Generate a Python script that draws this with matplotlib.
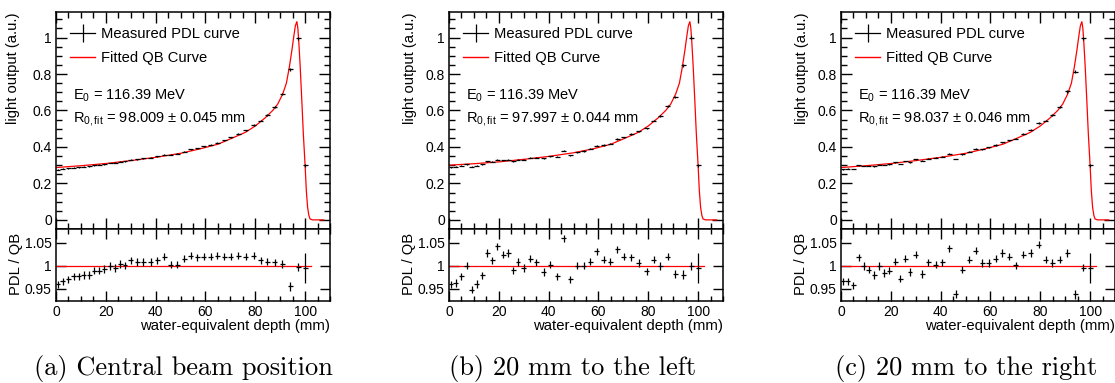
import numpy as np
import matplotlib.pyplot as plt
from matplotlib.ticker import MultipleLocator, FuncFormatter
from matplotlib.lines import Line2D

plt.rcParams.update({
    "font.family": ["Liberation Sans", "DejaVu Sans"],
    "font.size": 10,
    "mathtext.fontset": "custom",
    "mathtext.rm": "Liberation Sans",
    "mathtext.it": "Liberation Sans:italic",
    "axes.linewidth": 1.1,
})

# measured depth positions (mm), shared by the three runs
DEPTH = [0.8, 2.8, 5.0, 7.2, 9.2, 11.2, 13.3, 15.3, 17.3, 19.3,
         21.7, 23.7, 25.7, 27.7, 30.0, 32.7, 35.1, 38.0, 40.7, 43.4,
         46.1, 48.7, 51.4, 54.1, 56.8, 59.4, 62.1, 64.8, 67.5, 70.1,
         73.2, 76.2, 79.3, 82.2, 84.9, 87.8, 90.9, 94.0, 97.2, 100.0]

# PDL / QB ratio
RATIO_A = [0.959, 0.966, 0.970, 0.977, 0.977, 0.980, 0.980, 0.989, 0.989, 0.993,
           0.999, 0.995, 1.004, 1.001, 1.012, 1.008, 1.008, 1.008, 1.012, 1.020,
           1.002, 1.002, 1.015, 1.022, 1.018, 1.020, 1.020, 1.022, 1.020, 1.020,
           1.022, 1.020, 1.022, 1.012, 1.009, 1.007, 1.004, 0.955, 0.997, 0.995]
RATIO_B = [0.959, 0.962, 0.977, 1.000, 0.948, 0.960, 0.979, 1.028, 1.012, 1.042,
           1.024, 1.028, 0.990, 1.008, 0.995, 1.015, 1.007, 0.986, 1.002, 0.977,
           1.060, 0.970, 1.000, 1.000, 1.009, 1.031, 1.013, 1.009, 1.036, 1.020,
           1.018, 1.006, 0.988, 1.013, 0.999, 1.020, 0.982, 0.980, 0.999, 0.995]
RATIO_C = [0.966, 0.966, 0.957, 1.018, 0.999, 0.991, 0.980, 0.999, 0.984, 0.989,
           1.009, 0.972, 1.015, 0.986, 1.024, 0.982, 1.007, 1.002, 1.007, 1.038,
           0.938, 0.991, 1.013, 1.033, 1.006, 1.006, 1.015, 1.028, 1.020, 1.001,
           1.024, 1.028, 1.046, 1.013, 1.006, 1.013, 1.028, 0.938, 0.996, 0.995]
RATIO_ERR = [0.008, 0.008, 0.008, 0.008, 0.008, 0.008, 0.008, 0.008, 0.008, 0.008,
             0.008, 0.008, 0.008, 0.008, 0.008, 0.008, 0.008, 0.008, 0.008, 0.008,
             0.008, 0.008, 0.008, 0.008, 0.008, 0.008, 0.008, 0.008, 0.008, 0.008,
             0.008, 0.008, 0.008, 0.008, 0.008, 0.008, 0.008, 0.010, 0.008, 0.033]

# fitted QB curve read at the measured depths
QB_AT_DEPTH_A = [0.288, 0.290, 0.292, 0.294, 0.296, 0.298, 0.301, 0.303, 0.306, 0.308,
                 0.312, 0.315, 0.318, 0.321, 0.325, 0.330, 0.334, 0.339, 0.344, 0.350,
                 0.356, 0.362, 0.369, 0.378, 0.386, 0.395, 0.405, 0.414, 0.428, 0.444,
                 0.462, 0.482, 0.508, 0.538, 0.570, 0.613, 0.685, 0.865, 1.000, 0.300]
QB_AT_DEPTH_B = [0.301, 0.302, 0.304, 0.306, 0.307, 0.309, 0.311, 0.313, 0.315, 0.317,
                 0.320, 0.322, 0.325, 0.328, 0.331, 0.335, 0.339, 0.343, 0.348, 0.353,
                 0.358, 0.364, 0.371, 0.378, 0.386, 0.395, 0.405, 0.414, 0.428, 0.444,
                 0.462, 0.482, 0.508, 0.538, 0.570, 0.613, 0.685, 0.865, 1.000, 0.300]
QB_AT_DEPTH_C = QB_AT_DEPTH_A

# fitted QB curve, dense reading
FIT_X = [0, 10, 20, 30, 40, 50, 58, 65, 71, 76, 80, 84, 87, 89, 91, 92.5, 93.7,
         94.7, 95.5, 96.1, 96.7, 97.1, 97.5, 98.0, 98.7, 99.3, 100.0, 100.5, 101.0,
         101.5, 102.0, 103.0, 107.5]
FIT_A = [0.287, 0.297, 0.309, 0.325, 0.343, 0.365, 0.390, 0.415, 0.450, 0.480, 0.515,
         0.560, 0.600, 0.635, 0.690, 0.750, 0.840, 0.930, 1.010, 1.065, 1.087, 1.050,
         0.970, 0.850, 0.650, 0.470, 0.300, 0.160, 0.070, 0.025, 0.005, 0.0, 0.0]
FIT_B = [0.300, 0.308, 0.318, 0.332, 0.348, 0.368, 0.390, 0.415, 0.450, 0.480, 0.515,
         0.560, 0.600, 0.635, 0.690, 0.750, 0.840, 0.930, 1.010, 1.065, 1.087, 1.050,
         0.970, 0.850, 0.650, 0.470, 0.300, 0.160, 0.070, 0.025, 0.005, 0.0, 0.0]
FIT_C = FIT_A

RATIO_LINE_X = [0, 102.3]
E0_TEXT = "E$_{0}$ = 116.39 MeV"
R0_TEXTS = ["98.009 \u00b1 0.045 mm", "97.997 \u00b1 0.044 mm", "98.037 \u00b1 0.046 mm"]
CAPTIONS = ["(a) Central beam position", "(b) 20 mm to the left", "(c) 20 mm to the right"]

# layout in pixels of the 1115x383 canvas
W, H = 1115, 383
PANEL_LEFT = [56, 449, 841]
PANEL_W = 274
CAPTION_X = [183, 573, 966]
YLAB_TOP = [-0.130, -0.115, -0.115]
YLAB_RATIO = [-0.119, -0.119, -0.119]

fmt = FuncFormatter(lambda v, p: f"{v:g}")


def style(ax, xmaj, xmin, ymaj, ymin, long=7.5, short=4):
    ax.xaxis.set_major_locator(MultipleLocator(xmaj))
    ax.xaxis.set_minor_locator(MultipleLocator(xmin))
    ax.yaxis.set_major_locator(MultipleLocator(ymaj))
    if ymin:
        ax.yaxis.set_minor_locator(MultipleLocator(ymin))
    else:
        ax.yaxis.set_minor_locator(plt.NullLocator())
    ax.tick_params(which="both", direction="in", top=True, right=True,
                   width=1.0, labelsize=10, pad=3)
    ax.tick_params(which="major", length=long)
    ax.tick_params(which="minor", length=short)
    ax.yaxis.set_major_formatter(fmt)
    ax.xaxis.set_major_formatter(fmt)


fig = plt.figure(figsize=(W / 100, H / 100), dpi=100)

panels = [(RATIO_A, QB_AT_DEPTH_A, FIT_A), (RATIO_B, QB_AT_DEPTH_B, FIT_B),
          (RATIO_C, QB_AT_DEPTH_C, FIT_C)]

for i, (ratio, qb, fit) in enumerate(panels):
    left = PANEL_LEFT[i] / W
    width = PANEL_W / W
    ax = fig.add_axes([left, 1 - 229 / H, width, 217 / H])
    rx = fig.add_axes([left, 1 - 301 / H, width, 72 / H], sharex=ax)

    ratio = np.array(ratio)
    qb = np.array(qb)
    rerr = np.array(RATIO_ERR)
    pdl = qb * ratio

    # top: measured PDL + fitted QB curve
    ax.plot(FIT_X, fit, color="red", lw=0.9, zorder=2)
    ax.errorbar(DEPTH, pdl, xerr=1.0, yerr=pdl * rerr, fmt="none",
                ecolor="black", elinewidth=0.9, capsize=0, zorder=3)
    ax.set_xlim(0, 110)
    ax.set_ylim(-0.05, 1.14)
    style(ax, 20, 5, 0.2, 0.05, long=8, short=4)
    ax.tick_params(labelbottom=False)
    ax.set_ylabel("light output (a.u.)", loc="top", fontsize=10.6)
    ax.yaxis.set_label_coords(YLAB_TOP[i], 1.0)

    handles = [Line2D([0], [0], color="black", lw=0.9, marker="|",
                      markersize=13, markeredgewidth=0.9),
               Line2D([0], [0], color="red", lw=1.0)]
    ax.legend(handles, ["Measured PDL curve", "Fitted QB Curve"],
              loc="upper left", bbox_to_anchor=(0.052, 0.93), frameon=False,
              borderaxespad=0, handlelength=1.7, handletextpad=0.4,
              labelspacing=0.7, fontsize=10.6, borderpad=0.0)
    ax.text(0.062, 0.613, E0_TEXT, transform=ax.transAxes, va="center",
            ha="left", fontsize=10.5)
    ax.text(0.062, 0.508, "R$_{0,\\mathrm{fit}}$ = " + R0_TEXTS[i],
            transform=ax.transAxes, va="center", ha="left", fontsize=10.5)

    # bottom: ratio
    rx.plot(RATIO_LINE_X, [1, 1], color="red", lw=0.9, zorder=2)
    rx.errorbar(DEPTH, ratio, xerr=1.0, yerr=rerr, fmt="none",
                ecolor="black", elinewidth=0.9, capsize=0, zorder=3)
    rx.set_ylim(0.923, 1.08)
    style(rx, 20, 5, 0.05, None, long=7, short=3.5)
    rx.set_ylabel("PDL / QB", loc="top", fontsize=10.6)
    rx.yaxis.set_label_coords(YLAB_RATIO[i], 0.95)
    rx.set_xlabel("water-equivalent depth (mm)", loc="right", fontsize=10.7,
                  labelpad=0)

    fig.text(CAPTION_X[i] / W, 1 - 368 / H, CAPTIONS[i],
             family="cmr10", fontsize=19, ha="center", va="center")

fig.savefig("out.png", dpi=100)
